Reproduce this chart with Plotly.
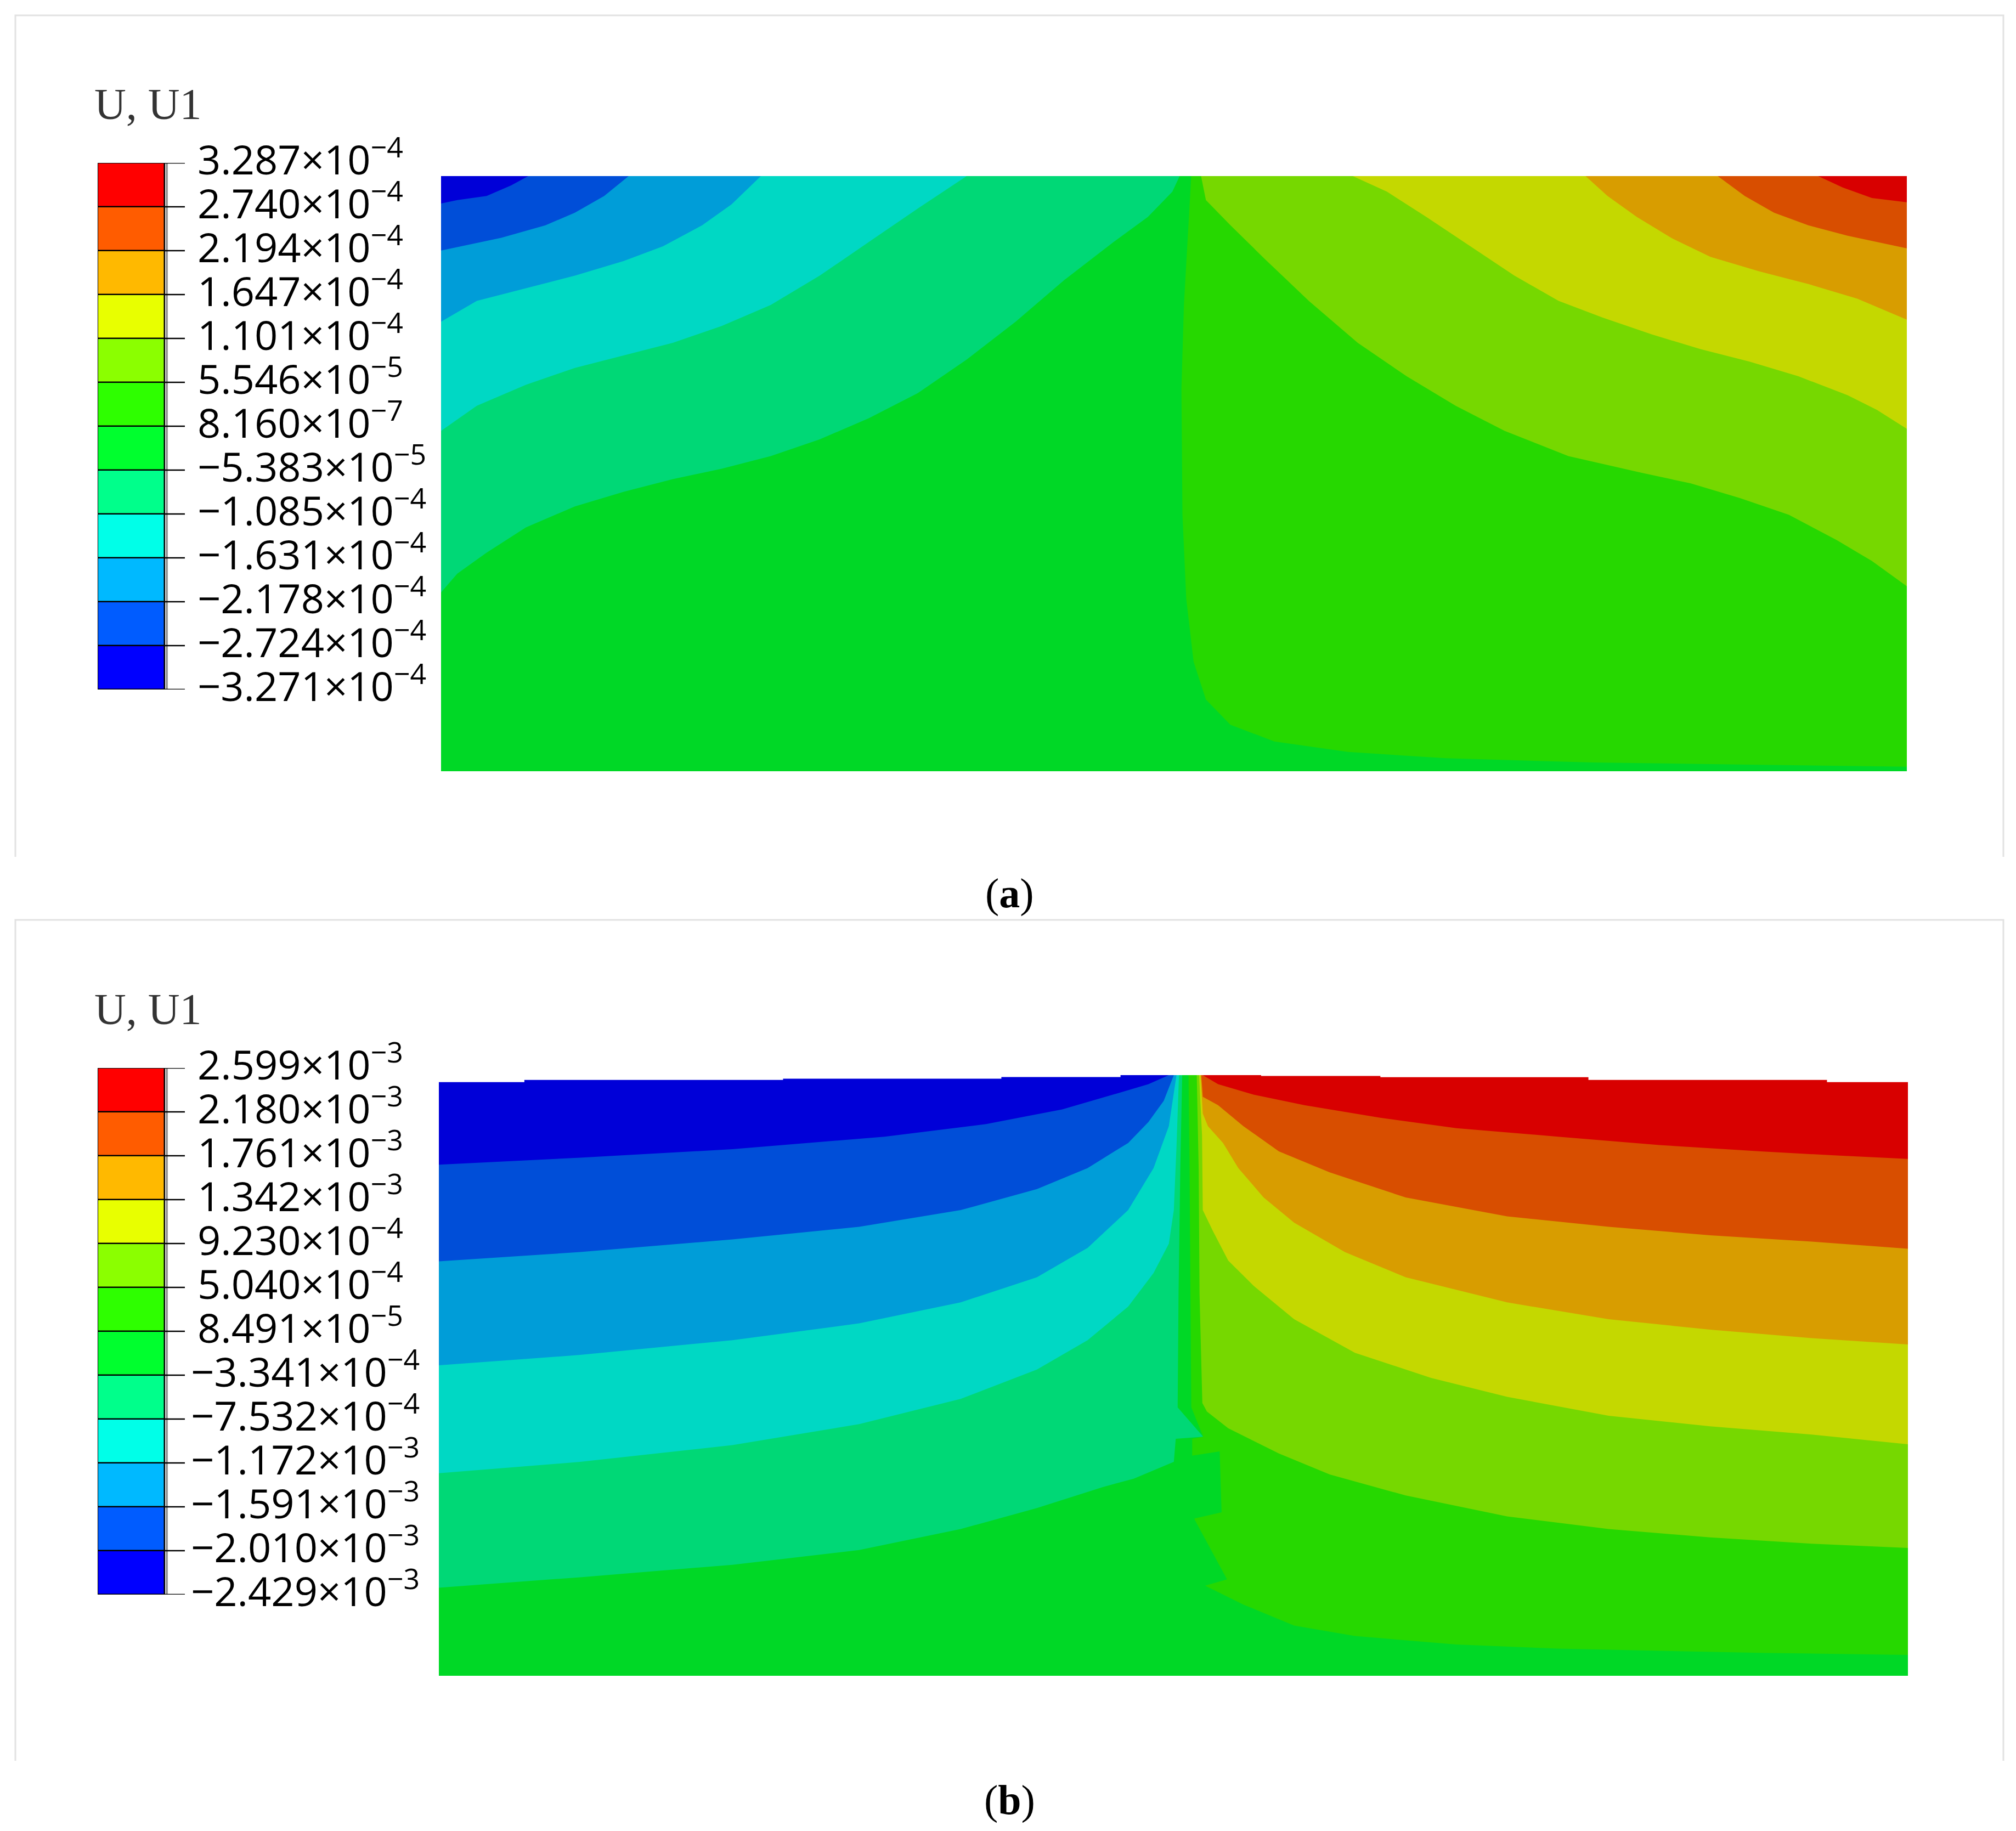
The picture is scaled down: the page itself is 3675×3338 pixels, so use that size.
import plotly.graph_objects as go

W, H = 3675, 3338
OFF = 8                      # browser body margin compensation
FW, FH = W - 2 * OFF, H - 2 * OFF


def px(x):
    return (x - OFF) / FW


def py(y):
    return 1 - (y - OFF) / FH


# ---------------- colours ----------------
C_RED, C_DORANGE, C_ORANGE = '#D80000', '#D84E00', '#D89D00'
C_YELLOW, C_YGREEN, C_GREEN1 = '#C4D800', '#76D800', '#26D800'
C_GREEN2, C_MINT, C_CYAN = '#00D826', '#00D876', '#00D8C4'
C_SKY, C_BLUE, C_DBLUE = '#009DD8', '#004ED8', '#0000D8'

legend_colors = ['#0000FF', '#005CFF', '#00B9FF', '#00FFE8', '#00FF8B', '#00FF2E',
                 '#2EFF00', '#8BFF00', '#E8FF00', '#FFB900', '#FF5C00', '#FF0000']  # bottom -> top

# ---------------- legend tick labels (top -> bottom) ----------------
a_tick_mant = ['3.287', '2.740', '2.194', '1.647', '1.101', '5.546', '8.160',
               '−5.383', '−1.085', '−1.631', '−2.178', '−2.724', '−3.271']
a_tick_exp = ['−4', '−4', '−4', '−4', '−4', '−5', '−7', '−5', '−4', '−4', '−4', '−4', '−4']
b_tick_mant = ['2.599', '2.180', '1.761', '1.342', '9.230', '5.040', '8.491',
               '−3.341', '−7.532', '−1.172', '−1.591', '−2.010', '−2.429']
b_tick_exp = ['−3', '−3', '−3', '−3', '−4', '−4', '−5', '−4', '−4', '−3', '−3', '−3', '−3']
legend_title = 'U, U1'

# ---------------- panel (a): band boundaries (u across, v down from top) ----------------
a_dblue_u = [0.0595, 0.0478, 0.0311, 0.0111, 0]
a_dblue_v = [0, 0.0157, 0.0333, 0.0404, 0.046]
a_blue_u = [0.128, 0.1113, 0.0913, 0.0712, 0.0411, 0]
a_blue_v = [0, 0.0333, 0.0615, 0.0827, 0.1038, 0.125]
a_sky_u = [0.2182, 0.1982, 0.1781, 0.1514, 0.1247, 0.0913, 0.0579, 0.0244, 0]
a_sky_v = [0, 0.0474, 0.0827, 0.1179, 0.1426, 0.1673, 0.1884, 0.2096, 0.2448]
a_cyan_u = [0.3586, 0.3252, 0.2918, 0.2583, 0.2249, 0.1915, 0.1581, 0.1247, 0.0913, 0.0579, 0.0244, 0]
a_cyan_v = [0, 0.0545, 0.1109, 0.1673, 0.2166, 0.2519, 0.2801, 0.3013, 0.3224, 0.3506, 0.3859, 0.4282]
a_mint_u = [0.5039, 0.4989, 0.4822, 0.4588, 0.4254, 0.392, 0.3586, 0.3252, 0.2918, 0.2583,
            0.2249, 0.1915, 0.1581, 0.1247, 0.0913, 0.0579, 0.0311, 0.0111, 0]
a_mint_v = [0, 0.0263, 0.0686, 0.1109, 0.1743, 0.2448, 0.3083, 0.3647, 0.407, 0.4423,
            0.4705, 0.4916, 0.5093, 0.5304, 0.5551, 0.5903, 0.6327, 0.6679, 0.6996]
a_green1_u = [0.5118, 0.5101, 0.5068, 0.5051, 0.5058, 0.5084, 0.5134, 0.5218, 0.5385, 0.5685,
              0.6187, 0.6855, 0.7858, 0.8861, 1.0]
a_green1_v = [0, 0.0756, 0.2166, 0.3576, 0.5692, 0.7102, 0.816, 0.8795, 0.9218, 0.95,
              0.9676, 0.9782, 0.9853, 0.9888, 0.9923]
a_ygreen_u = [0.5185, 0.5218, 0.5385, 0.5619, 0.592, 0.6254, 0.6588, 0.6922, 0.7256, 0.7691,
              0.8192, 0.8526, 0.8861, 0.9195, 0.9521, 0.9762, 1.0]
a_ygreen_v = [0, 0.0404, 0.0826, 0.1391, 0.2096, 0.2801, 0.3365, 0.3859, 0.4282, 0.4705,
              0.4987, 0.5163, 0.541, 0.5692, 0.6115, 0.6468, 0.6891]
a_yellow_u = [0.622, 0.6454, 0.6722, 0.7022, 0.7323, 0.7624, 0.7925, 0.8259, 0.8593, 0.8927,
              0.9261, 0.9596, 0.9796, 1.0]
a_yellow_v = [0, 0.0263, 0.0686, 0.1179, 0.1673, 0.2096, 0.2378, 0.266, 0.2907, 0.3118,
              0.3365, 0.3682, 0.3929, 0.4247]
a_orange_u = [0.7808, 0.7958, 0.8158, 0.8392, 0.866, 0.8994, 0.9328, 0.9662, 1.0]
a_orange_v = [0, 0.0333, 0.0686, 0.1038, 0.1356, 0.1602, 0.1814, 0.2061, 0.2413]
a_dorange_u = [0.871, 0.8894, 0.9094, 0.9328, 0.9596, 1.0]
a_dorange_v = [0, 0.0333, 0.0615, 0.0827, 0.1003, 0.1215]
a_red_u = [0.9395, 0.9562, 0.9762, 1.0]
a_red_v = [0, 0.0192, 0.0368, 0.0439]

# ---------------- panel (b): band boundaries ----------------
b_dblue_u = [0, 0.0962, 0.1998, 0.3034, 0.3725, 0.4243, 0.4589, 0.4830, 0.4969]
b_dblue_v = [0.1492, 0.1374, 0.1234, 0.1024, 0.0815, 0.057, 0.0325, 0.0151, 0]
b_blue_u = [0, 0.0962, 0.1998, 0.2861, 0.3552, 0.4071, 0.4416, 0.4692, 0.4830, 0.4934, 0.5003]
b_blue_v = [0.31, 0.2946, 0.2736, 0.2526, 0.2247, 0.1898, 0.1548, 0.1129, 0.078, 0.043, 0]
b_sky_u = [0, 0.0962, 0.1998, 0.2861, 0.3552, 0.4071, 0.4416, 0.4692, 0.4865, 0.4969, 0.5021]
b_sky_v = [0.4832, 0.4658, 0.4413, 0.4133, 0.3784, 0.3365, 0.2876, 0.2247, 0.1548, 0.0849, 0]
b_cyan_u = [0, 0.0962, 0.1998, 0.2861, 0.3552, 0.4071, 0.4416, 0.4692, 0.4865, 0.4969, 0.5003, 0.5021, 0.5038]
b_cyan_v = [0.6628, 0.6439, 0.616, 0.5811, 0.5391, 0.4902, 0.4413, 0.3854, 0.3295, 0.2806, 0.2247, 0.1199, 0]
b_mint_u = [0, 0.0962, 0.1998, 0.2861, 0.3552, 0.4071, 0.452, 0.473, 0.5003, 0.5016, 0.5203,
            0.5029, 0.5035, 0.5047, 0.506]
b_mint_v = [0.8535, 0.836, 0.8152, 0.7907, 0.7557, 0.7208, 0.6858, 0.6719, 0.6439, 0.6055, 0.602,
            0.5531, 0.3644, 0.1548, 0]
b_green1_u = [0.5103, 0.5110, 0.5116, 0.5122, 0.5203, 0.5128, 0.5128, 0.5315, 0.5328, 0.5141,
              0.5365, 0.5216, 0.5476, 0.5822, 0.6236, 0.6927, 0.7618, 0.8309, 0.8999, 1.0]
b_green1_v = [0, 0.1548, 0.3644, 0.5531, 0.602, 0.6055, 0.6335, 0.6265, 0.7278, 0.7383,
              0.8396, 0.8501, 0.8815, 0.9164, 0.9339, 0.9479, 0.9549, 0.9584, 0.9619, 0.9653]
b_ygreen_u = [0.5159, 0.5172, 0.5178, 0.5197, 0.5228, 0.5373, 0.5718, 0.6064, 0.6581, 0.7272,
              0.7963, 0.8654, 0.9345, 1.0]
b_ygreen_v = [0, 0.1548, 0.3644, 0.546, 0.5601, 0.588, 0.63, 0.6649, 0.6998, 0.7348,
              0.7557, 0.7697, 0.7802, 0.7872]
b_yellow_u = [0.5175, 0.5195, 0.52, 0.5269, 0.5373, 0.5545, 0.5822, 0.6236, 0.6754, 0.7272,
              0.7963, 0.8654, 0.9345, 1.0]
b_yellow_v = [0, 0.1, 0.2247, 0.2596, 0.3086, 0.3505, 0.4064, 0.4623, 0.5042, 0.5356,
              0.5671, 0.5846, 0.5985, 0.6146]
b_orange_u = [0.5185, 0.52, 0.5235, 0.5338, 0.5442, 0.5614, 0.5822, 0.6167, 0.6581, 0.7272,
              0.7963, 0.8654, 0.9345, 1.0]
b_orange_v = [0, 0.064, 0.0849, 0.1129, 0.1548, 0.2037, 0.2457, 0.2946, 0.3365, 0.3784,
              0.4064, 0.4238, 0.4378, 0.4483]
b_dorange_u = [0.519, 0.52, 0.5304, 0.5476, 0.5718, 0.6064, 0.6581, 0.7272, 0.7963, 0.8654, 0.9345, 1.0]
b_dorange_v = [0, 0.0361, 0.05, 0.0849, 0.1269, 0.1618, 0.2037, 0.2352, 0.2526, 0.2666, 0.2771, 0.2890]
b_red_u = [0.52, 0.5304, 0.5545, 0.5891, 0.6409, 0.6927, 0.7618, 0.8309, 0.8999, 0.9518, 1.0]
b_red_v = [0, 0.0151, 0.0325, 0.05, 0.071, 0.0884, 0.1024, 0.1164, 0.1269, 0.1339, 0.1395]
# slightly stepped top edge of the deformed model in (b)
b_top_u = [0, 0.0582, 0.0582, 0.2343, 0.2343, 0.3829, 0.3829, 0.464, 0.464, 0.5597,
           0.5597, 0.6409, 0.6409, 0.7825, 0.7825, 0.9449, 0.9449, 1.0]
b_top_v = [0.0116, 0.0116, 0.0081, 0.0081, 0.006, 0.006, 0.0032, 0.0032, 0, 0,
           0.0014, 0.0014, 0.0034, 0.0034, 0.0081, 0.0081, 0.0116, 0.0116]


# ---------------- helpers ----------------
def poly(u, v, corner, color, ax):
    xs = list(u) + ([corner[0]] if corner else [])
    ys = list(v) + ([corner[1]] if corner else [])
    return go.Scatter(x=xs, y=ys, mode='lines', fill='toself', fillcolor=color,
                      line=dict(width=0, color=color), hoverinfo='skip',
                      xaxis='x' + ax, yaxis='y' + ax, showlegend=False)


fig = go.Figure()

# panel (a)
fig.add_trace(poly([0, 1, 1, 0], [0, 0, 1, 1], None, C_GREEN2, ''))
for u, v, c in [(a_mint_u, a_mint_v, C_MINT), (a_cyan_u, a_cyan_v, C_CYAN),
                (a_sky_u, a_sky_v, C_SKY), (a_blue_u, a_blue_v, C_BLUE),
                (a_dblue_u, a_dblue_v, C_DBLUE)]:
    fig.add_trace(poly(u, v, (0, 0), c, ''))
for u, v, c in [(a_green1_u, a_green1_v, C_GREEN1), (a_ygreen_u, a_ygreen_v, C_YGREEN),
                (a_yellow_u, a_yellow_v, C_YELLOW), (a_orange_u, a_orange_v, C_ORANGE),
                (a_dorange_u, a_dorange_v, C_DORANGE), (a_red_u, a_red_v, C_RED)]:
    fig.add_trace(poly(u, v, (1, 0), c, ''))

# panel (b)
fig.add_trace(poly([0, 1, 1, 0], [0, 0, 1, 1], None, C_GREEN2, '2'))
for u, v, c in [(b_mint_u, b_mint_v, C_MINT), (b_cyan_u, b_cyan_v, C_CYAN),
                (b_sky_u, b_sky_v, C_SKY), (b_blue_u, b_blue_v, C_BLUE),
                (b_dblue_u, b_dblue_v, C_DBLUE)]:
    fig.add_trace(poly(u, v, (0, 0), c, '2'))
for u, v, c in [(b_green1_u, b_green1_v, C_GREEN1), (b_ygreen_u, b_ygreen_v, C_YGREEN),
                (b_yellow_u, b_yellow_v, C_YELLOW), (b_orange_u, b_orange_v, C_ORANGE),
                (b_dorange_u, b_dorange_v, C_DORANGE), (b_red_u, b_red_v, C_RED)]:
    fig.add_trace(poly(u, v, (1, 0), c, '2'))
# white above stepped top edge
fig.add_trace(poly(b_top_u + [1.0, 0.0], b_top_v + [-0.05, -0.05], None, 'white', '2'))

# legends (colour bars)
nb = len(legend_colors)
for ax in ['3', '4']:
    fig.add_trace(go.Bar(x=[0.5] * nb, y=[1] * nb, base=list(range(nb)), width=[1.0] * nb,
                         marker=dict(color=legend_colors, line=dict(color='black', width=2.5)),
                         xaxis='x' + ax, yaxis='y' + ax, hoverinfo='skip', showlegend=False))
    fig.add_trace(go.Scatter(x=[1.03, 1.03], y=[0, nb], mode='lines',
                             line=dict(color='#9a9a9a', width=4),
                             xaxis='x' + ax, yaxis='y' + ax, hoverinfo='skip', showlegend=False))
    tx, ty = [], []
    for k in range(nb + 1):
        tx += [1.0, 1.3, None]
        ty += [k, k, None]
    fig.add_trace(go.Scatter(x=tx, y=ty, mode='lines', line=dict(color='black', width=2.5),
                             xaxis='x' + ax, yaxis='y' + ax, hoverinfo='skip', showlegend=False))

annotations = []
for ax, mants, exps, is_b in [('3', a_tick_mant, a_tick_exp, False), ('4', b_tick_mant, b_tick_exp, True)]:
    for i, (m, e) in enumerate(zip(mants, exps)):
        xpx = 358 - (12 if (is_b and m.startswith('−')) else 0)
        annotations.append(dict(x=px(xpx), xref='paper', y=nb - i, yref='y' + ax,
                                text=f'{m}×10<sup>{e}</sup>', showarrow=False,
                                xanchor='left', yanchor='middle', yshift=11,
                                font=dict(family='Open Sans', size=74, color='black')))

for ypx in [190, 1840]:
    annotations.append(dict(x=px(170), y=py(ypx), xref='paper', yref='paper',
                            text=legend_title, showarrow=False, xanchor='left', yanchor='middle',
                            font=dict(family='Liberation Serif', size=80, color='#333333')))

for txt, ypx in [('(<b>a</b>)', 1628), ('(<b>b</b>)', 3281)]:
    annotations.append(dict(x=px(1840), y=py(ypx), xref='paper', yref='paper',
                            text=txt, showarrow=False, xanchor='center', yanchor='middle',
                            font=dict(family='Liberation Serif', size=76, color='black')))

shapes = []
for top, bot in [(28, 1562), (1677, 3210)]:
    shapes.append(dict(type='path', xref='paper', yref='paper',
                       path=f'M {px(28)} {py(bot)} L {px(28)} {py(top)} '
                            f'L {px(3652)} {py(top)} L {px(3652)} {py(bot)}',
                       line=dict(color='#e2e2e2', width=3)))

hid = dict(visible=False, fixedrange=True, showgrid=False, zeroline=False)
fig.update_layout(
    width=FW, height=FH, margin=dict(l=0, r=0, t=0, b=0),
    paper_bgcolor='white', plot_bgcolor='white', showlegend=False, bargap=0,
    xaxis=dict(domain=[px(804), px(3476)], range=[0, 1], anchor='y', **hid),
    yaxis=dict(domain=[py(1406), py(321)], range=[1, 0], anchor='x', **hid),
    xaxis2=dict(domain=[px(800), px(3478)], range=[0, 1], anchor='y2', **hid),
    yaxis2=dict(domain=[py(3055), py(1960)], range=[1, 0], anchor='x2', **hid),
    xaxis3=dict(domain=[px(178), px(337)], range=[0, 1.3], anchor='y3', **hid),
    yaxis3=dict(domain=[py(1257), py(297)], range=[0, 12], anchor='x3', **hid),
    xaxis4=dict(domain=[px(178), px(337)], range=[0, 1.3], anchor='y4', **hid),
    yaxis4=dict(domain=[py(2907), py(1947)], range=[0, 12], anchor='x4', **hid),
    annotations=annotations, shapes=shapes,
)

fig.write_html('out.html')
